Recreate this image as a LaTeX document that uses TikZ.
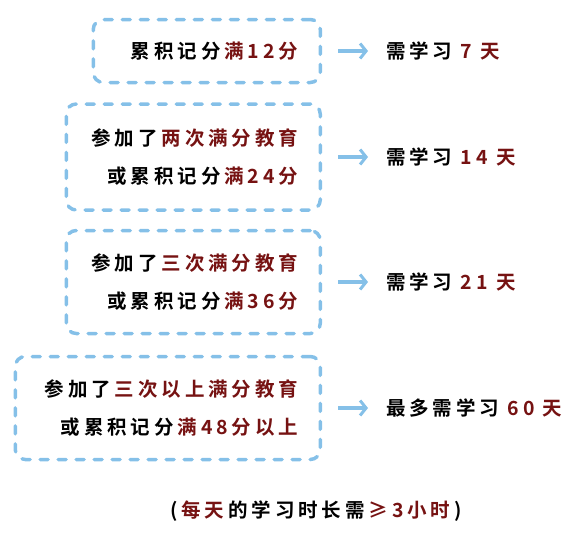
\documentclass[tikz,border=0pt]{standalone}
\usepackage{fontspec}
\usepackage{tikz}
\usetikzlibrary{arrows.meta,positioning}
\setmainfont{Noto Sans CJK SC}[LetterSpace=20,BoldFont={Noto Sans CJK SC Bold}]
\definecolor{dashc}{RGB}{133,192,232}
\definecolor{redc}{RGB}{118,18,18}
\newcommand{\lsp}{\kern0.2em}
\newcommand{\hl}[1]{\lsp\textcolor{redc}{#1}}
\tikzset{
  condbox/.style={draw=dashc,line width=3.5pt,dash pattern=on 8pt off 10pt,line cap=round,
    rounded corners=10pt,anchor=east,align=right,inner xsep=22pt,inner ysep=0pt},
  resnode/.style={anchor=west,inner sep=0pt},
  arr/.style={draw=dashc,line width=3.5pt,-{Straight Barb[length=6pt,width=15pt,line width=3pt]},shorten <=16pt,shorten >=18pt}
}

\begin{document}
\begin{tikzpicture}[x=1pt,y=-1pt,font=\bfseries\fontsize{19.5}{38}\selectfont]
\useasboundingbox (0,0) rectangle (582,541);
% conditions
\node[condbox,text width=183pt,minimum height=63pt] (c1) at (322,51) {累积记分\hl{满12分}};
\node[condbox,text width=210pt,minimum height=106pt] (c2) at (322,157) {参加了\hl{两次满分教育}\\或累积记分\hl{满24分}};
\node[condbox,text width=210pt,minimum height=103pt] (c3) at (322,282) {参加了\hl{三次满分教育}\\或累积记分\hl{满36分}};
\node[condbox,text width=261pt,minimum height=103pt] (c4) at (322,408) {参加了\hl{三次以上满分教育}\\或累积记分\hl{满48分以上}};
% results
\node[resnode] (r1) at (386,51) {需学习 \textcolor{redc}{7 天}};
\node[resnode] (r2) at (386,157) {需学习 \textcolor{redc}{14 天}};
\node[resnode] (r3) at (386,282) {需学习 \textcolor{redc}{21 天}};
\node[resnode] (r4) at (386,408) {最多需学习 \textcolor{redc}{60 天}};
\foreach \i in {1,...,4}{ \draw[arr] (c\i.east) -- (r\i.west); }
% note
\node (note) at (316,511) {(\hl{每天}\lsp 的学习时长需\hl{≥3小时}\lsp)};
\end{tikzpicture}
\end{document}
